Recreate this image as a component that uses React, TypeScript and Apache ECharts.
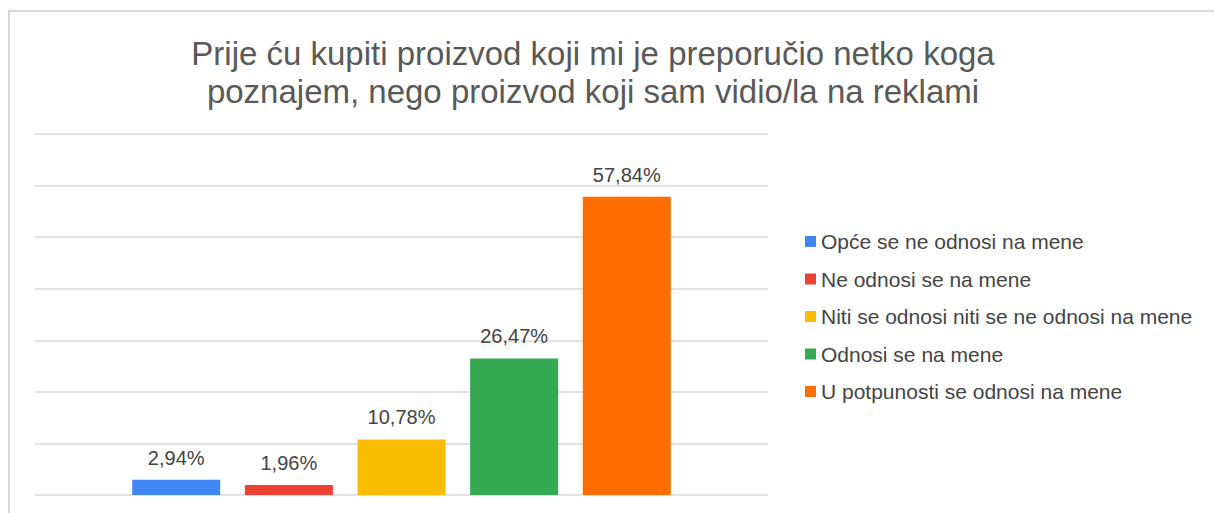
import React, { useEffect, useRef } from "react";
import * as echarts from "echarts";

const titleText = "Prije ću kupiti proizvod koji mi je preporučio netko koga\npoznajem, nego proizvod koji sam vidio/la na reklami";
const categories = [""];
const seriesNames = [
  "Opće se ne odnosi na mene",
  "Ne odnosi se na mene",
  "Niti se odnosi niti se ne odnosi na mene",
  "Odnosi se na mene",
  "U potpunosti se odnosi na mene",
];
const seriesValues = [2.94, 1.96, 10.78, 26.47, 57.84];
const seriesColors = ["#4285F4", "#EA4335", "#FBBC04", "#34A853", "#FF6D01"];

const FONT = "'Liberation Sans', Arial, sans-serif";

export default function App() {
  const ref = useRef<HTMLDivElement>(null);
  useEffect(() => {
    if (!ref.current) return;
    const chart = echarts.init(ref.current, null, { renderer: "svg" });
    chart.setOption({
      animation: false,
      backgroundColor: "#ffffff",
      textStyle: { fontFamily: FONT },
      title: {
        text: titleText,
        left: 588,
        top: 29,
        textAlign: "center",
        textStyle: {
          fontFamily: FONT,
          fontSize: 33,
          lineHeight: 38,
          fontWeight: "normal",
          color: "#595959",
        },
      },
      legend: {
        orient: "vertical",
        left: 800,
        top: 225,
        itemWidth: 11,
        itemHeight: 11,
        itemGap: 14.5,
        icon: "rect",
        data: seriesNames,
        textStyle: { fontFamily: FONT, fontSize: 21, lineHeight: 23, color: "#444444" },
      },
      grid: { left: 35, right: 446, top: 134, bottom: 18, containLabel: false },
      xAxis: {
        type: "category",
        data: categories,
        axisLine: { show: false },
        axisTick: { show: false },
        axisLabel: { show: false },
      },
      yAxis: {
        type: "value",
        min: 0,
        max: 70,
        interval: 10,
        axisLabel: { show: false },
        axisLine: { show: false },
        axisTick: { show: false },
        splitLine: { lineStyle: { color: "#d9d9d9", width: 1.5 } },
      },
      series: seriesNames.map((name, i) => ({
        name,
        type: "bar",
        data: [seriesValues[i]],
        barWidth: 88,
        barGap: "28%",
        itemStyle: { color: seriesColors[i] },
        label: {
          show: true,
          position: "top",
          distance: 12,
          fontFamily: FONT,
          fontSize: 20,
          color: "#444444",
          formatter: (p: any) => p.value.toFixed(2).replace(".", ",") + "%",
        },
      })),
      graphic: [
        {
          type: "line",
          silent: true,
          shape: { x1: 8, y1: 11, x2: 1214, y2: 11 },
          style: { stroke: "#d9d9d9", lineWidth: 2 },
        },
        {
          type: "line",
          silent: true,
          shape: { x1: 9, y1: 10, x2: 9, y2: 513 },
          style: { stroke: "#d9d9d9", lineWidth: 2 },
        },
      ],
    });
    return () => chart.dispose();
  }, []);
  return (
    <div
      ref={ref}
      style={{ position: "fixed", left: 0, top: 0, width: 1214, height: 513, background: "#fff" }}
    />
  );
}
